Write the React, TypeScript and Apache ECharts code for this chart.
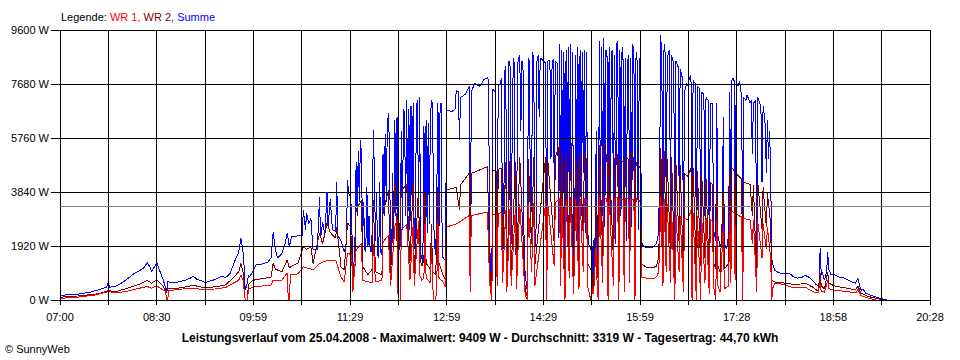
import { useEffect, useRef } from "react";
import * as echarts from "echarts";

// time axis: minutes after 07:00, 18 grid divisions up to 20:28 (808 min)
const xLabels = ["07:00", "08:30", "09:59", "11:29", "12:59", "14:29", "15:59", "17:28", "18:58", "20:28"];
const yTicks = [0, 1920, 3840, 5760, 7680, 9600];
const averageW = 3319;
const titleText =
  "Leistungsverlauf vom 25.04.2008 - Maximalwert: 9409 W - Durchschnitt: 3319 W - Tagesertrag: 44,70 kWh";

// Summe [minute after 07:00, W]
const summe: [number, number][] = [
  [0,150],[5,180],[9,200],[14,180],[19,230],[26,260],[33,330],[37,380],[43,450],[45,620],[46,450],[52,500],[58,620],[63,760],[69,950],[74,1050],[78,1150],[81,1330],[84,1150],[85,1000],[88,1200],[90,1330],[93,1000],[96,700],[98,450],[99,280],[100,650],[104,620],[110,640],[116,700],[121,780],[124,840],[127,740],[132,680],[135,600],[137,650],[141,690],[146,760],[150,850],[154,800],[158,950],[161,1250],[163,1450],[166,1700],[168,2200],[170,1700],[171,1200],[172,350],[174,600],[175,900],[176,820],[179,1000],[182,1250],[188,1280],[193,1350],[196,1500],[198,2420],[200,1800],[202,1500],[206,1650],[209,2000],[211,2380],[213,1900],[215,2250],[221,2280],[225,2300],[226,3200],[228,2500],[229,3100],[231,2700],[233,2900],[235,1800],[239,1780],[241,3670],[242,2200],[244,2770],[246,2300],[248,3800],[249,2600],[251,3600],[253,2500],[256,2450],[257,4200],[258,2300],[261,2100],[264,1700],[266,2000],[267,4270],[268,3800],[270,3670],[271,2800],[272,460],[274,1200],[275,4900],[276,3000],[277,5300],[278,3500],[279,5700],[280,5200],[281,2000],[282,3500],[283,1800],[284,1700],[285,4000],[286,1900],[287,3000],[288,1800],[289,1700],[290,2500],[291,6050],[292,4500],[293,2100],[294,3800],[295,1600],[296,1500],[297,4200],[298,1700],[299,1600],[300,5200],[301,3000],[302,5900],[303,3500],[304,6200],[305,6640],[306,5500],[307,1600],[308,1400],[309,4500],[310,2200],[311,6400],[312,3000],[313,6500],[314,2000],[315,1800],[316,1900],[317,6000],[318,2500],[319,6800],[320,6600],[321,3000],[322,7100],[323,2200],[324,6800],[325,2500],[326,6900],[327,3500],[328,7000],[329,1800],[330,2200],[331,6900],[332,7100],[333,3200],[334,7200],[335,1400],[336,1600],[337,1300],[338,6200],[339,2800],[340,6400],[341,2400],[342,6300],[343,2700],[344,6500],[345,7100],[346,7000],[347,2800],[348,1900],[349,1600],[350,4000],[351,7000],[352,2600],[353,6950],[354,7000],[355,1550],[357,1450],[358,1450],[359,6750],[364,6700],[367,6800],[368,7450],[370,7400],[371,5700],[372,7200],[376,7300],[379,7500],[380,7600],[381,800],[382,7400],[385,7700],[390,7600],[394,7850],[397,7900],[398,7800],[399,2500],[400,300],[401,200],[402,7500],[404,7400],[405,2000],[406,1700],[407,7600],[409,7700],[410,7900],[411,2000],[412,1800],[413,8100],[414,8300],[415,1500],[416,1200],[417,8500],[418,8300],[419,2000],[420,6000],[421,8600],[422,8400],[423,1700],[424,1500],[425,8400],[426,8600],[427,8700],[428,6000],[429,8500],[430,8300],[431,2000],[432,900],[434,300],[435,8600],[436,8500],[437,2400],[438,4000],[439,8800],[440,8500],[441,2300],[442,1900],[443,8500],[444,8700],[445,6500],[446,8600],[448,8550],[449,8500],[450,8450],[451,8450],[452,300],[453,8500],[455,8500],[456,5000],[457,8400],[458,8550],[459,4000],[460,8500],[462,8400],[463,2200],[464,9100],[465,2500],[466,8900],[467,2800],[468,8800],[469,700],[470,8900],[471,2000],[472,9000],[473,3000],[474,9100],[475,1900],[476,8800],[477,1500],[478,1800],[479,8700],[480,2100],[481,9000],[482,2200],[483,8900],[484,3000],[485,8800],[486,4500],[487,8900],[488,2400],[489,8800],[490,2500],[491,2000],[493,1800],[494,2000],[495,900],[496,2200],[497,1500],[498,6000],[499,2000],[500,1400],[501,9200],[502,2500],[503,9000],[504,3000],[505,9300],[506,2600],[507,8900],[508,8800],[509,4000],[510,9000],[511,2300],[512,8800],[513,8900],[514,2800],[515,8700],[516,2000],[517,9100],[518,9200],[519,1200],[520,8900],[521,3000],[522,9000],[523,8500],[524,1700],[525,8600],[526,2100],[527,8400],[528,8700],[529,3000],[530,8600],[531,2600],[532,9100],[533,8700],[534,2200],[535,8800],[536,8500],[537,2500],[538,8600],[539,8400],[540,2100],[541,1950],[545,1850],[550,1850],[554,2000],[556,2400],[557,5000],[558,9409],[559,8000],[560,2500],[561,9100],[562,8800],[563,3500],[564,8600],[566,8900],[567,3000],[568,8700],[570,8400],[571,1500],[572,8500],[574,8300],[575,4000],[576,8200],[578,7900],[579,2000],[580,7400],[582,7700],[583,7600],[584,7800],[586,8000],[587,3000],[588,7800],[590,7700],[591,1800],[592,7600],[594,7500],[595,2200],[596,7400],[598,7300],[599,3000],[600,7200],[602,7100],[603,1700],[604,7000],[606,7000],[607,2500],[609,2100],[610,7000],[611,2300],[613,1900],[615,2100],[616,6500],[617,2000],[619,1800],[621,2300],[622,7400],[623,2400],[624,7800],[625,7900],[626,7800],[627,3000],[628,7700],[630,7600],[631,7800],[632,7500],[633,7300],[634,2500],[635,7200],[637,7100],[638,7300],[639,7200],[641,7000],[642,7100],[643,5200],[644,7000],[646,7100],[647,1600],[648,7200],[650,7000],[651,6800],[652,4200],[653,6900],[654,6600],[655,6200],[656,4500],[657,6400],[658,5000],[659,6000],[660,4600],[661,1500],[662,1250],[664,1050],[667,980],[671,930],[675,960],[678,930],[681,830],[685,780],[689,800],[692,880],[695,820],[699,700],[702,560],[704,500],[705,550],[706,1850],[707,900],[708,1000],[710,700],[712,1000],[713,1700],[714,1100],[716,900],[719,900],[723,820],[727,800],[731,720],[735,650],[739,600],[740,700],[741,780],[742,600],[744,350],[746,380],[748,250],[751,200],[754,150],[757,120],[760,80],[764,40],[768,0]
];

// WR 2 [minute after 07:00, W]
const wr2: [number, number][] = [
  [0,100],[9,120],[19,150],[26,180],[37,230],[45,330],[52,300],[63,420],[74,560],[81,700],[85,600],[90,720],[96,480],[99,250],[100,400],[110,420],[124,520],[135,430],[146,480],[154,540],[161,800],[166,1000],[168,1300],[170,1000],[172,0],[174,0],[175,550],[179,700],[188,760],[196,820],[198,1300],[200,1100],[206,1000],[211,1420],[213,1150],[221,1320],[226,1900],[229,1800],[233,1900],[235,1300],[241,2370],[244,2000],[248,2740],[251,2400],[256,2200],[257,2600],[261,1180],[264,1070],[267,2740],[270,2600],[272,300],[275,3200],[280,3560],[281,1200],[286,900],[290,1100],[291,3560],[293,1000],[299,900],[300,3090],[305,3910],[307,900],[311,4270],[314,1000],[317,3900],[322,4100],[325,1300],[328,4200],[329,900],[333,4000],[334,1500],[336,1200],[338,1400],[339,3800],[340,1300],[344,1100],[345,2700],[346,1000],[349,900],[351,4000],[352,1300],[354,1100],[355,960],[358,710],[359,3910],[368,4000],[371,3200],[372,4100],[380,4500],[381,400],[382,4500],[397,4740],[399,1200],[401,0],[402,4600],[405,4600],[406,1000],[407,4650],[410,4700],[411,1500],[414,4900],[415,600],[418,5000],[419,1000],[423,4900],[424,800],[427,5100],[432,400],[434,100],[435,5000],[438,2000],[440,5100],[441,1200],[451,5090],[452,100],[453,5000],[459,2000],[460,5100],[464,5500],[465,1200],[466,5300],[469,300],[470,5300],[473,1500],[474,5500],[477,700],[479,5100],[482,1000],[483,5300],[486,2200],[487,5200],[489,5000],[490,1300],[494,1000],[495,400],[496,1100],[498,3500],[499,1000],[500,700],[501,5500],[504,1500],[505,5600],[508,5000],[509,2000],[510,5200],[514,1400],[515,5000],[518,5200],[519,500],[520,5000],[523,4900],[524,800],[525,5100],[528,5000],[529,1500],[530,5300],[533,5000],[534,1100],[535,4900],[539,4700],[540,1300],[545,1140],[550,1140],[554,1200],[556,1500],[557,3000],[558,5400],[560,1300],[561,5300],[563,2000],[564,5000],[567,1500],[568,5100],[571,700],[572,4900],[575,2000],[576,4800],[579,1000],[580,4500],[583,4400],[586,4700],[587,1500],[588,4700],[591,900],[592,4600],[595,1200],[596,4500],[599,1500],[600,4300],[603,800],[604,4200],[606,4100],[607,1300],[609,1100],[610,4100],[611,1200],[613,1000],[616,3800],[617,1100],[621,1300],[622,4400],[623,1300],[624,4700],[626,4600],[627,1600],[628,4500],[633,4300],[634,1300],[635,4200],[641,4100],[643,3000],[644,4100],[647,800],[648,4200],[652,2500],[653,4000],[656,2600],[657,3800],[660,2700],[661,700],[664,640],[671,610],[681,560],[689,570],[692,600],[699,460],[704,320],[706,960],[707,500],[710,400],[713,1000],[714,600],[719,500],[731,420],[739,360],[741,500],[744,250],[751,120],[760,50],[764,0]
];

// WR 1 [minute after 07:00, W]
const wr1: [number, number][] = [
  [0,60],[9,80],[19,110],[33,180],[45,300],[52,250],[63,320],[74,420],[81,480],[85,420],[90,500],[96,350],[98,300],[99,0],[100,0],[101,330],[110,380],[124,420],[135,360],[146,400],[154,450],[161,600],[166,700],[168,900],[170,700],[172,0],[174,0],[175,380],[179,460],[188,500],[196,530],[198,710],[206,710],[211,960],[212,0],[213,0],[214,890],[221,930],[226,1180],[233,1100],[235,1070],[241,1300],[248,1400],[256,1420],[261,820],[264,640],[267,1670],[271,1600],[272,300],[275,1780],[280,2020],[281,700],[286,650],[290,600],[291,2000],[293,650],[299,700],[300,2060],[305,2300],[307,500],[311,2600],[313,2840],[314,0],[316,0],[317,2500],[322,2700],[325,700],[328,2700],[329,500],[333,2800],[334,900],[336,700],[338,800],[339,2700],[340,800],[344,600],[345,2000],[346,600],[347,0],[349,0],[350,700],[351,2800],[352,800],[354,700],[355,710],[358,460],[359,2600],[368,2700],[372,2800],[380,3000],[381,300],[382,3000],[397,3130],[399,600],[401,0],[402,3050],[405,3050],[406,500],[407,3080],[410,3100],[411,600],[414,3200],[415,300],[418,3300],[419,500],[423,3300],[424,400],[427,3400],[432,200],[434,0],[435,3400],[438,1000],[440,3450],[441,500],[451,3440],[452,0],[453,3440],[459,1200],[460,3450],[464,3600],[465,500],[466,3600],[469,0],[470,3600],[473,800],[474,3650],[477,200],[479,3600],[482,400],[483,3600],[486,1000],[487,3600],[489,3550],[490,500],[493,0],[494,400],[495,200],[496,500],[498,2000],[499,300],[500,0],[501,3650],[504,600],[505,3650],[508,3600],[509,0],[510,3650],[514,500],[515,3600],[518,3650],[519,0],[520,3600],[523,3550],[524,300],[525,3600],[528,3600],[529,600],[530,3600],[533,3550],[534,0],[535,3600],[539,3500],[540,800],[545,780],[550,760],[554,800],[556,1000],[557,2000],[558,3670],[560,500],[561,3600],[563,1000],[564,3400],[567,600],[568,3200],[571,0],[572,3100],[575,1000],[576,3000],[579,300],[580,2900],[583,2850],[586,3200],[587,0],[588,3100],[591,0],[592,3000],[595,0],[596,2950],[599,600],[600,2900],[603,200],[604,2850],[606,2800],[607,500],[609,0],[610,2800],[611,500],[613,300],[616,2600],[617,400],[621,500],[622,3000],[623,600],[624,3150],[626,3100],[627,700],[628,3050],[633,2950],[634,0],[635,2900],[641,2850],[643,2000],[644,2850],[647,300],[648,2800],[652,1500],[653,2700],[656,1800],[657,2600],[660,1500],[661,0],[662,430],[664,600],[671,560],[681,430],[689,430],[692,460],[699,300],[704,250],[706,600],[707,300],[710,280],[713,700],[714,400],[719,350],[731,300],[739,250],[741,380],[744,150],[751,60],[758,0]
];

const SPAN = 808;
const DIVISIONS = 18;
const STEP = SPAN / DIVISIONS;
const FONT = "'Liberation Sans', Arial, sans-serif";

export default function App() {
  const ref = useRef<HTMLDivElement>(null);
  useEffect(() => {
    if (!ref.current) return;
    const chart = echarts.init(ref.current, null, { renderer: "svg" });
    chart.setOption({
      animation: false,
      backgroundColor: "#ffffff",
      textStyle: { fontFamily: FONT },
      grid: { left: 60, right: 30, top: 30, bottom: 60, containLabel: false },
      xAxis: {
        type: "value",
        min: 0,
        max: SPAN,
        interval: STEP,
        z: 3,
        axisLine: { show: true, lineStyle: { color: "#000", width: 1 } },
        axisTick: { show: true, length: 5, lineStyle: { color: "#000", width: 1 } },
        splitLine: { show: true, lineStyle: { color: "#000", width: 1 } },
        axisLabel: {
          color: "#000",
          fontSize: 11,
          fontFamily: FONT,
          margin: 11,
          showMinLabel: true,
          showMaxLabel: true,
          formatter: (v: number) => {
            const i = Math.round(v / STEP);
            return i % 2 === 0 ? xLabels[i / 2] ?? "" : "";
          },
        },
      },
      yAxis: {
        type: "value",
        min: yTicks[0],
        max: yTicks[yTicks.length - 1],
        interval: yTicks[1] - yTicks[0],
        z: 3,
        axisLine: { show: true, lineStyle: { color: "#000", width: 1 } },
        axisTick: { show: true, length: 9, lineStyle: { color: "#000", width: 1 } },
        splitLine: { show: true, lineStyle: { color: "#000", width: 1 } },
        axisLabel: {
          color: "#000",
          fontSize: 11,
          fontFamily: FONT,
          margin: 11,
          formatter: (v: number) => `${v} W`,
        },
      },
      graphic: [
        {
          type: "text",
          x: 61,
          y: 17,
          style: {
            text: "{k|Legende: }{a|WR 1, }{b|WR 2, }{c|Summe}",
            verticalAlign: "middle",
            font: `11px ${FONT}`,
            rich: {
              k: { fill: "#000", fontSize: 11, fontFamily: FONT },
              a: { fill: "#ff0000", fontSize: 11, fontFamily: FONT },
              b: { fill: "#800000", fontSize: 11, fontFamily: FONT },
              c: { fill: "#0000ff", fontSize: 11, fontFamily: FONT },
            },
          },
        },
        {
          type: "text",
          x: 480,
          y: 338,
          style: {
            text: titleText,
            align: "center",
            verticalAlign: "middle",
            fill: "#000",
            font: `bold 12px ${FONT}`,
          },
        },
        {
          type: "text",
          x: 5,
          y: 349,
          style: {
            text: "© SunnyWeb",
            verticalAlign: "middle",
            fill: "#000",
            font: `11px ${FONT}`,
          },
        },
      ],
      series: [
        {
          name: "Summe",
          type: "line",
          data: summe,
          showSymbol: false,
          symbol: "none",
          silent: true,
          z: 2,
          lineStyle: { color: "#0000ff", width: 1 },
          itemStyle: { color: "#0000ff" },
        },
        {
          name: "WR 2",
          type: "line",
          data: wr2,
          showSymbol: false,
          symbol: "none",
          silent: true,
          z: 2,
          lineStyle: { color: "#800000", width: 1 },
          itemStyle: { color: "#800000" },
        },
        {
          name: "WR 1",
          type: "line",
          data: wr1,
          showSymbol: false,
          symbol: "none",
          silent: true,
          z: 2,
          lineStyle: { color: "#ff0000", width: 1 },
          itemStyle: { color: "#ff0000" },
          markLine: {
            silent: true,
            symbol: "none",
            label: { show: false },
            lineStyle: { color: "#808080", width: 1, type: "solid" },
            data: [{ yAxis: averageW }],
          },
        },
      ],
    });
    return () => chart.dispose();
  }, []);
  return (
    <>
      <style>{`#sunny-chart svg path { shape-rendering: crispEdges; }`}</style>
      <div
        id="sunny-chart"
        ref={ref}
        style={{ position: "absolute", left: 0, top: 0, width: 960, height: 360, background: "#fff" }}
      />
    </>
  );
}
